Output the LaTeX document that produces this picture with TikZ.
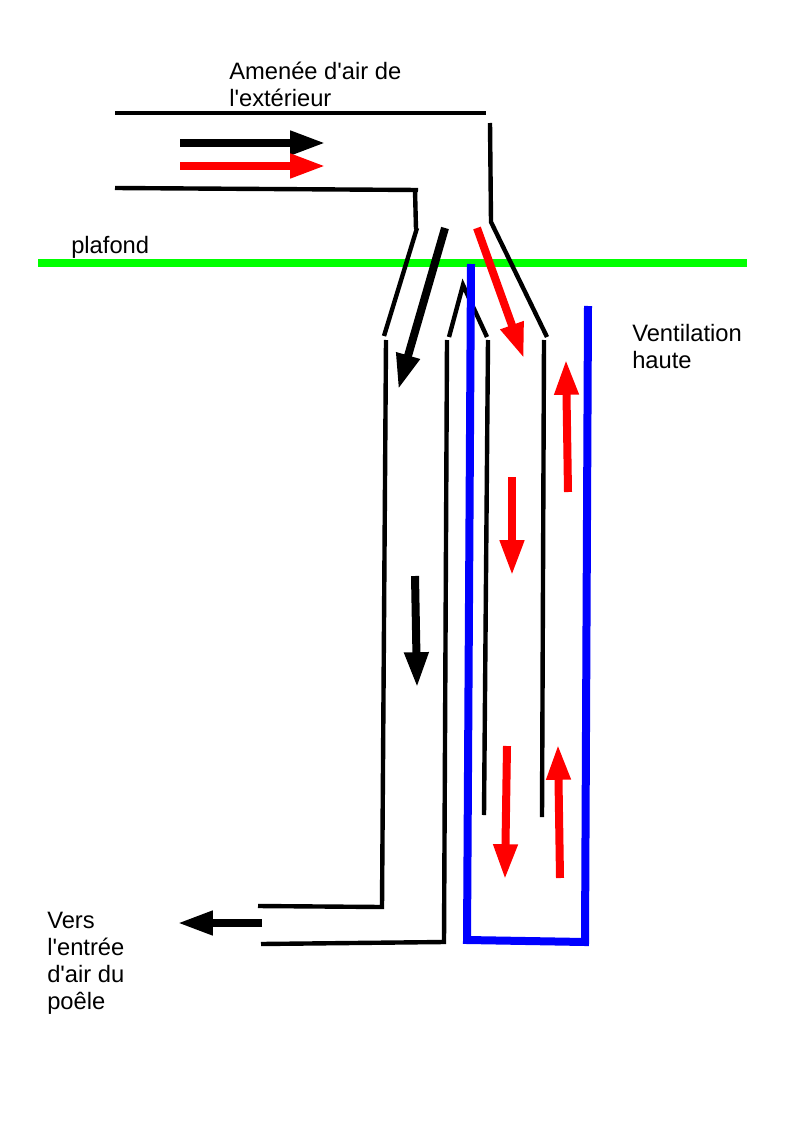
\documentclass[tikz,border=0pt]{standalone}
\usepackage{fontspec}
\usetikzlibrary{arrows.meta}
\newfontfamily\labelfont{Liberation Sans}

\begin{document}
\begin{tikzpicture}[
  x=0.75pt, y=-0.75pt,
  duct/.style={draw=black, line width=3.3pt},
  ceiling/.style={draw=green, line width=6pt},
  vent/.style={draw=blue, line width=6pt},
  flow/.style={line width=6pt, shorten >=-1.9pt, -{Triangle[length=26.5pt, width=17pt]}},
  coldflow/.style={flow, draw=black, fill=black},
  hotflow/.style={flow, draw=red, fill=red},
  txt/.style={anchor=north west, inner sep=0pt, align=left,
              font=\labelfont\fontsize{17.8}{20.25}\selectfont}
]
\useasboundingbox (0,0) rectangle (794,1123);

% plafond
\draw[ceiling] (38,263) -- (747,263);

% conduit du haut
\draw[duct] (115,113) -- (486,113);
\draw[duct] (490,123) -- (491,222) -- (547,337);
\draw[duct] (115,188) -- (418,190);
\draw[duct] (415,190) -- (416,229);
\draw[duct] (417,228) -- (384,336);

% conduit vers le poele
\draw[duct] (386,340) -- (382,907) -- (258,906);
\draw[duct] (447,340) -- (444,942) -- (261,944);
\draw[duct] (449,337) -- (463,285) -- (487,337);

% conduit interieur
\draw[duct] (488,340) -- (484,815);
\draw[duct] (544,340) -- (542,817);

% ventilation
\draw[vent] (471,264) -- (467,940) -- (585,942) -- (588,306);

% fleches
\draw[coldflow] (180,143) -- (323,143);
\draw[hotflow] (180,166) -- (323,166);
\draw[coldflow] (445,228) -- (399,387);
\draw[hotflow] (477,228) -- (523,356);
\draw[coldflow] (415,576) -- (417,685);
\draw[coldflow] (262,923) -- (180,923);
\draw[hotflow] (512,477) -- (512,573);
\draw[hotflow] (568,492) -- (566,362);
\draw[hotflow] (507,746) -- (505,877);
\draw[hotflow] (560,878) -- (558,747);

% textes
\node[txt] (amenee) at (229,61.5) {Amen\'ee d'air de\\l'ext\'erieur};
\node[txt] (plafond) at (71,236) {plafond};
\node[txt] (ventilation) at (632,324) {Ventilation\\haute};
\node[txt] (vers) at (47,912) {Vers\\l'entr\'ee\\d'air du\\po\^ele};
\end{tikzpicture}
\end{document}
